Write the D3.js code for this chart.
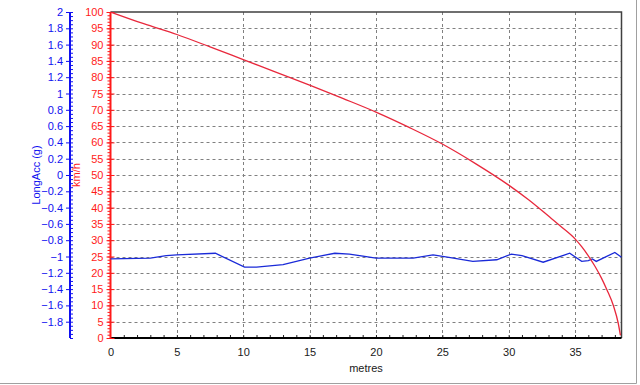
<!DOCTYPE html>
<html>
<head>
<meta charset="utf-8">
<script src="https://cdn.jsdelivr.net/npm/d3@7"></script>
<style>
    body { margin: 0; background: #fff; }
    svg { display: block; font-family: Arial, "Liberation Sans", sans-serif; }
</style>
</head>
<body>
<div id="chart"></div>
<script>
// speed trace (km/h) against distance (metres)
let speedDist = [0, 2.5, 5, 7.5, 10, 12.5, 15, 17.5, 20, 22.5, 25, 27.5, 30, 31.5, 33, 34,
    35, 35.5, 36, 36.5, 37, 37.4, 37.9, 38.25, 38.42];
let speedVals = [100, 96.4, 93.1, 89.3, 85.4, 81.5, 77.6, 73.5, 69.3, 64.6, 59.5, 53.5, 46.9,
    42.4, 37.4, 34.0, 30.4, 28.0, 25.2, 22.0, 18.3, 14.8, 9.8, 4.6, 0.8];

// longitudinal acceleration (g) against distance
let accDist = [0, 3, 4.2, 5, 7.9, 10.1, 11, 13, 15, 16.9, 18, 20, 22.8, 24.3, 25.5, 27.3, 29.1,
    30.2, 31, 32.6, 34.6, 35.5, 36, 36.3, 36.6, 38.0, 38.5];
let accVals = [-1.03, -1.02, -0.99, -0.98, -0.96, -1.13, -1.13, -1.1, -1.02, -0.96, -0.97, -1.02,
    -1.02, -0.98, -1.01, -1.06, -1.04, -0.97, -0.99, -1.07, -0.96, -1.06, -1.05, -1.03, -1.06, -0.95, -1.01];

let xTicks = [0, 5, 10, 15, 20, 25, 30, 35];
let speedTicks = d3.range(0, 101, 5);
let accTicks = d3.range(-18, 21, 2).map(d => d / 10);

let width = 640, height = 385;
let plot = {left: 110.5, right: 621.5, top: 12, bottom: 338};

let svg = d3.select('#chart').append('svg')
    .attr('width', width)
    .attr('height', height);

// scales
let x = d3.scaleLinear().domain([0, 38.5]).range([plot.left, plot.right]);
let ySpeed = d3.scaleLinear().domain([0, 100]).range([plot.bottom, plot.top]);
let yAcc = d3.scaleLinear().domain([-2, 2]).range([plot.bottom, plot.top]);

// outer frame (border on right and bottom)
svg.append('line').attr('x1', 636.5).attr('x2', 636.5).attr('y1', 0).attr('y2', 383.5)
    .attr('stroke', '#a0a0a0');
svg.append('line').attr('x1', 0).attr('x2', 636.5).attr('y1', 383.5).attr('y2', 383.5)
    .attr('stroke', '#a0a0a0');

// grid
let grid = svg.append('g').attr('stroke', '#808080').attr('stroke-dasharray', '3,3');
grid.selectAll('.hgrid')
    .data(speedTicks.filter(d => d > 0 && d < 100))
    .join('line')
    .attr('x1', plot.left).attr('x2', plot.right)
    .attr('y1', d => Math.round(ySpeed(d)) + 0.5)
    .attr('y2', d => Math.round(ySpeed(d)) + 0.5);
grid.selectAll('.vgrid')
    .data(xTicks.filter(d => d > 0))
    .join('line')
    .attr('y1', plot.top).attr('y2', plot.bottom)
    .attr('x1', d => Math.round(x(d)) + 0.5)
    .attr('x2', d => Math.round(x(d)) + 0.5);

// plot frame top and right
svg.append('path')
    .attr('d', `M${plot.left},${plot.top}H${plot.right}V${plot.bottom}`)
    .attr('fill', 'none')
    .attr('stroke', '#404040')
    .attr('stroke-width', 1.5);

// x axis
let xAxis = svg.append('g')
    .attr('transform', `translate(0,${plot.bottom})`)
    .call(d3.axisBottom(x).tickValues(xTicks).tickSize(0).tickPadding(10));
xAxis.select('.domain').remove();
xAxis.selectAll('text').attr('font-size', 11).attr('fill', '#202020')
    .attr('font-family', 'Arial, "Liberation Sans", sans-serif');
let xMinor = svg.append('g')
    .attr('transform', `translate(0,${plot.bottom})`)
    .call(d3.axisTop(x).tickValues(d3.range(1, 39, 1)).tickSize(3).tickFormat(''));
xMinor.select('.domain').remove();
xMinor.selectAll('line').attr('stroke', '#202020');
svg.append('line')
    .attr('x1', plot.left).attr('x2', plot.right)
    .attr('y1', plot.bottom).attr('y2', plot.bottom)
    .attr('stroke', '#000').attr('stroke-width', 2);
svg.append('text')
    .attr('x', (plot.left + plot.right) / 2).attr('y', 372)
    .attr('text-anchor', 'middle')
    .attr('font-size', 11).attr('fill', '#202020')
    .text('metres');

// speed axis (red)
let red = '#ff1a1a';
let sMinor = svg.append('g')
    .attr('transform', `translate(${plot.left},0)`)
    .call(d3.axisLeft(ySpeed).tickValues(d3.range(0, 101, 1)).tickSize(3).tickFormat(''));
sMinor.select('.domain').remove();
sMinor.selectAll('line').attr('stroke', red);
let sAxis = svg.append('g')
    .attr('transform', `translate(${plot.left},0)`)
    .call(d3.axisLeft(ySpeed).tickValues(speedTicks).tickSize(4).tickPadding(3));
sAxis.select('.domain').remove();
sAxis.selectAll('line').attr('stroke', red).attr('x2', 4).attr('x1', -4);
sAxis.selectAll('text').attr('fill', red).attr('font-size', 11)
    .attr('font-family', 'Arial, "Liberation Sans", sans-serif');
svg.append('line')
    .attr('x1', plot.left).attr('x2', plot.left)
    .attr('y1', plot.top).attr('y2', plot.bottom)
    .attr('stroke', red).attr('stroke-width', 2);
svg.append('text')
    .attr('transform', `translate(80,${(plot.top + plot.bottom) / 2}) rotate(-90)`)
    .attr('text-anchor', 'middle')
    .attr('font-size', 11).attr('fill', red)
    .text('km/h');

// acceleration axis (blue)
let blue = '#1010f0';
let ax = 70;
let aMinor = svg.append('g')
    .attr('transform', `translate(${ax},0)`)
    .call(d3.axisRight(yAcc).tickValues(d3.range(-40, 41, 1).map(d => d / 20)).tickSize(3).tickFormat(''));
aMinor.select('.domain').remove();
aMinor.selectAll('line').attr('stroke', blue);
let aAxis = svg.append('g')
    .attr('transform', `translate(${ax},0)`)
    .call(d3.axisLeft(yAcc).tickValues(accTicks).tickSize(4).tickPadding(3)
        .tickFormat(d => d3.format('')(Math.round(d * 10) / 10)));
aAxis.select('.domain').remove();
aAxis.selectAll('line').attr('stroke', blue);
aAxis.selectAll('text').attr('fill', blue).attr('font-size', 11)
    .attr('font-family', 'Arial, "Liberation Sans", sans-serif');
svg.append('line')
    .attr('x1', ax).attr('x2', ax)
    .attr('y1', plot.top).attr('y2', plot.bottom)
    .attr('stroke', blue).attr('stroke-width', 2);
svg.append('text')
    .attr('transform', `translate(40,${(plot.top + plot.bottom) / 2}) rotate(-90)`)
    .attr('text-anchor', 'middle')
    .attr('font-size', 11).attr('fill', blue)
    .text('LongAcc (g)');

// data lines
let accLine = d3.line()
    .x((d, i) => x(accDist[i]))
    .y(d => yAcc(d));
svg.append('path')
    .datum(accVals)
    .attr('d', accLine)
    .attr('fill', 'none')
    .attr('stroke', '#1a2ad8')
    .attr('stroke-width', 1.3);

let speedLine = d3.line()
    .x((d, i) => x(speedDist[i]))
    .y(d => ySpeed(d))
    .curve(d3.curveMonotoneX);
svg.append('path')
    .datum(speedVals)
    .attr('d', speedLine)
    .attr('fill', 'none')
    .attr('stroke', '#e8283c')
    .attr('stroke-width', 1.3);
</script>
</body>
</html>
